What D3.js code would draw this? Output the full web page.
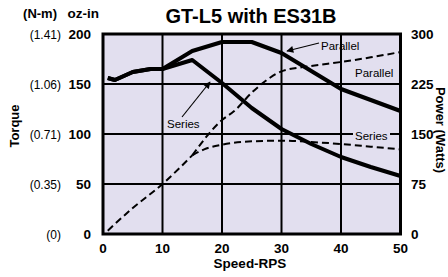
<!DOCTYPE html>
<html lang="en">
<head>
<script src="https://d3js.org/d3.v7.min.js"></script>
<style>
  body { margin: 0; background: #fff; }
  text { font-family: "Liberation Sans", Arial, sans-serif; }
</style>
</head>
<body>
<script>
// data (speed in rps)
var torqueParallel = [[0.8,156],[2,154],[5,162],[8,165],[10,165],[15,183],[20,192],[25,192],[30,181],[35,163],[40,145],[45,134],[50,123]];
var torqueSeries   = [[0.8,156],[2,154],[5,162],[8,165],[10,165],[15,174],[20,151],[25,126],[30,105],[35,90],[40,77],[45,67],[50,58]];
var powerCommon    = [[0.8,5],[5,39],[10,75],[15,118]];
var powerParallel  = [[15,118],[20,171],[22,184],[25,212],[28,234],[30,244],[35,252],[40,258],[45,265],[50,273]];
var powerSeries    = [[15,118],[17,127],[20,134],[25,139],[30,140],[35,138],[40,135],[45,131],[50,127]];

var speedTicks = [0,10,20,30,40,50];
var ozTicks = [0,50,100,150,200];
var nmLabels = ["(0)","(0.35)","(0.71)","(1.06)","(1.41)"];
var wattTicks = [0,75,150,225,300];

var width = 448, height = 277;
var svg = d3.select('body').append('svg').attr('width', width).attr('height', height);

var x = d3.scaleLinear().domain([0,50]).range([103,400.5]);
var y = d3.scaleLinear().domain([0,200]).range([234,34]);
var yp = d3.scaleLinear().domain([0,300]).range([234,34]);

// plot background
svg.append('rect').attr('x', x(0)).attr('y', y(200))
  .attr('width', x(50)-x(0)).attr('height', y(0)-y(200))
  .attr('fill', '#e2dfef');

// grid
svg.selectAll('.vg').data([10,20,30,40]).join('line')
  .attr('x1', d => x(d)).attr('x2', d => x(d))
  .attr('y1', y(0)).attr('y2', y(200))
  .attr('stroke', '#000').attr('stroke-width', 2);
svg.selectAll('.hg').data([50,100,150]).join('line')
  .attr('x1', x(0)).attr('x2', x(50))
  .attr('y1', d => y(d)).attr('y2', d => y(d))
  .attr('stroke', '#000').attr('stroke-width', 2);

var line = d3.line().x(d => x(d[0])).y(d => y(d[1]));
var pline = d3.line().x(d => x(d[0])).y(d => yp(d[1])).curve(d3.curveMonotoneX);

// power curves (dashed)
[powerCommon, powerParallel, powerSeries].forEach(function(s) {
  svg.append('path').attr('d', pline(s)).attr('fill', 'none')
    .attr('stroke', '#000').attr('stroke-width', 2).attr('stroke-dasharray', '7,4');
});

// torque curves
[torqueParallel, torqueSeries].forEach(function(s) {
  svg.append('path').attr('d', line(s)).attr('fill', 'none')
    .attr('stroke', '#000').attr('stroke-width', 4).attr('stroke-linejoin', 'round');
});

// frame
svg.append('rect').attr('x', x(0)).attr('y', y(200))
  .attr('width', x(50)-x(0)).attr('height', y(0)-y(200))
  .attr('fill', 'none').attr('stroke', '#000').attr('stroke-width', 3);

// annotations
svg.append('defs').append('marker').attr('id', 'ah')
  .attr('viewBox', '0 0 10 10').attr('refX', 9).attr('refY', 5)
  .attr('markerWidth', 9).attr('markerHeight', 7).attr('orient', 'auto')
  .attr('markerUnits', 'userSpaceOnUse')
  .append('path').attr('d', 'M0,0L10,5L0,10z').attr('fill', '#000');

svg.append('line').attr('x1', 182).attr('y1', 117).attr('x2', 210).attr('y2', 82)
  .attr('stroke', '#000').attr('stroke-width', 1.2).attr('marker-end', 'url(#ah)');
svg.append('line').attr('x1', 319).attr('y1', 43).attr('x2', 287).attr('y2', 51)
  .attr('stroke', '#000').attr('stroke-width', 1.2).attr('marker-end', 'url(#ah)');

svg.append('rect').attr('x', 353).attr('y', 128).attr('width', 37).attr('height', 12)
  .attr('fill', '#e2dfef');

var notes = [["Series",167,128],["Parallel",321,50],["Parallel",355,77],["Series",355,140]];
svg.selectAll('.note').data(notes).join('text')
  .attr('x', d => d[1]).attr('y', d => d[2])
  .attr('font-size', 11.5).text(d => d[0]);

// left axis labels
svg.selectAll('.oz').data(ozTicks).join('text')
  .attr('x', 91).attr('y', d => y(d) + 5).attr('text-anchor', 'end')
  .attr('font-size', 13.5).attr('font-weight', 'bold').text(d => d);
svg.selectAll('.nm').data(nmLabels).join('text')
  .attr('x', 61).attr('y', (d,i) => y(ozTicks[i]) + 4.5).attr('text-anchor', 'end')
  .attr('font-size', 12).text(d => d);
svg.append('text').attr('x', 57).attr('y', 18).attr('text-anchor', 'end')
  .attr('font-size', 13).attr('font-weight', 'bold').text('(N-m)');
svg.append('text').attr('x', 99).attr('y', 18).attr('text-anchor', 'end')
  .attr('font-size', 13.5).attr('font-weight', 'bold').text('oz-in');

// right axis labels
svg.selectAll('.w').data(wattTicks).join('text')
  .attr('x', 411).attr('y', d => yp(d) + 5)
  .attr('font-size', 13.5).attr('font-weight', 'bold').text(d => d);

// bottom axis labels
svg.selectAll('.sp').data(speedTicks).join('text')
  .attr('x', d => x(d)).attr('y', 253).attr('text-anchor', 'middle')
  .attr('font-size', 13.5).attr('font-weight', 'bold').text(d => d);
svg.append('text').attr('x', 250).attr('y', 268).attr('text-anchor', 'middle')
  .attr('font-size', 13.5).attr('font-weight', 'bold').text('Speed-RPS');

// titles
svg.append('text').attr('x', 251).attr('y', 23).attr('text-anchor', 'middle')
  .attr('font-size', 20).attr('font-weight', 'bold').text('GT-L5 with ES31B');
svg.append('text').attr('transform', 'translate(19,126) rotate(-90)')
  .attr('text-anchor', 'middle').attr('font-size', 13).attr('font-weight', 'bold').text('Torque');
svg.append('text').attr('transform', 'translate(436,130) rotate(90)')
  .attr('text-anchor', 'middle').attr('font-size', 13).attr('font-weight', 'bold').text('Power (Watts)');
</script>
</body>
</html>
